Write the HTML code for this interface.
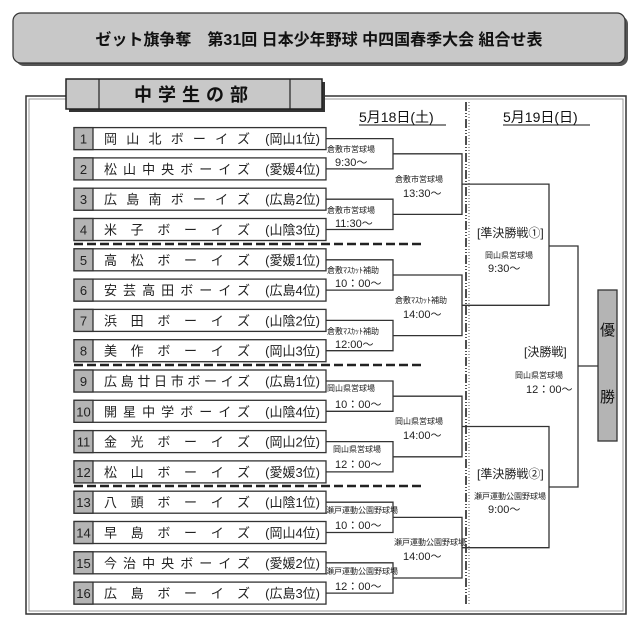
<!DOCTYPE html>
<html><head><meta charset="utf-8"><style>
body{margin:0;background:#fff}
svg{display:block;font-family:"Liberation Sans","Noto Sans CJK JP",sans-serif}
</style></head><body>
<svg width="640" height="625" viewBox="0 0 640 625" xmlns="http://www.w3.org/2000/svg">
<rect x="16" y="16" width="612" height="50" rx="8" fill="#555"/>
<rect x="13" y="13" width="612" height="50" rx="8" fill="#c8c8c8" stroke="#333" stroke-width="1.2"/>
<text x="319" y="45" font-size="16" font-weight="bold" text-anchor="middle" fill="#111">ゼット旗争奪　第31回 日本少年野球 中四国春季大会 組合せ表</text>
<rect x="26" y="96" width="600" height="518" fill="none" stroke="#333" stroke-width="1.5"/>
<rect x="29" y="99" width="594" height="512" fill="none" stroke="#999" stroke-width="1"/>
<rect x="69" y="82" width="256" height="30" fill="#333"/>
<rect x="66" y="79" width="256" height="30" fill="#c8c8c8" stroke="#222" stroke-width="1.5"/>
<line x1="99" y1="79" x2="99" y2="109" stroke="#222" stroke-width="1.2"/>
<line x1="290" y1="79" x2="290" y2="109" stroke="#222" stroke-width="1.2"/>
<text x="194" y="101" font-size="18" font-weight="bold" text-anchor="middle" letter-spacing="6" fill="#111">中学生の部</text>
<text x="359" y="122" font-size="14" fill="#111">5月18日(土)</text>
<line x1="359" y1="125" x2="446" y2="125" stroke="#111"/>
<text x="503" y="122" font-size="14" fill="#111">5月19日(日)</text>
<line x1="503" y1="125" x2="590" y2="125" stroke="#111"/>
<line x1="466" y1="102" x2="466" y2="604" stroke="#222" stroke-width="1.6" stroke-dasharray="9,2,1,2,1,2"/>
<line x1="469" y1="102" x2="469" y2="604" stroke="#555" stroke-width="1" stroke-dasharray="1,2"/>
<g stroke="#222" stroke-width="2.5" stroke-dasharray="9,4">
<line x1="74" y1="244" x2="422" y2="244"/>
<line x1="74" y1="365" x2="422" y2="365"/>
<line x1="74" y1="486" x2="422" y2="486"/>
</g>
<g stroke="#333" stroke-width="1.3" fill="none">
<path d="M326 138.6H393V168.9H326"/>
<path d="M326 199.2H393V229.5H326"/>
<path d="M326 259.8H393V290.1H326"/>
<path d="M326 320.4H393V350.7H326"/>
<path d="M326 381H393V411.3H326"/>
<path d="M326 441.6H393V471.9H326"/>
<path d="M326 502.2H393V532.5H326"/>
<path d="M326 562.8H393V593.1H326"/>
<path d="M393 153.8H462V214.4H393"/>
<path d="M393 275H462V335.6H393"/>
<path d="M393 396.2H462V456.8H393"/>
<path d="M393 517.4H462V578H393"/>
<path d="M462 184.1H549V305.3H462"/>
<path d="M462 426.5H549V547.7H462"/>
<path d="M549 246H578V487H549"/>
<path d="M578 366H598"/>
</g>
<rect x="598" y="290" width="19" height="151" fill="#b4b4b4" stroke="#333" stroke-width="1.3"/>
<text x="607.5" y="335" font-size="15" text-anchor="middle" fill="#111">優</text>
<text x="607.5" y="402" font-size="15" text-anchor="middle" fill="#111">勝</text>
<g fill="#222">
<g font-size="8">
<text x="327" y="152">倉敷市営球場</text>
<text x="327" y="213">倉敷市営球場</text>
<text x="327" y="273">倉敷ﾏｽｶｯﾄ補助</text>
<text x="327" y="334">倉敷ﾏｽｶｯﾄ補助</text>
<text x="327" y="391">岡山県営球場</text>
<text x="333" y="452">岡山県営球場</text>
<text x="326" y="513">瀬戸運動公園野球場</text>
<text x="326" y="574">瀬戸運動公園野球場</text>
<text x="395" y="182">倉敷市営球場</text>
<text x="395" y="303">倉敷ﾏｽｶｯﾄ補助</text>
<text x="395" y="424">岡山県営球場</text>
<text x="394" y="545">瀬戸運動公園野球場</text>
<text x="485" y="258">岡山県営球場</text>
<text x="474" y="499">瀬戸運動公園野球場</text>
<text x="515" y="378">岡山県営球場</text>
</g>
<g font-size="11">
<text x="335" y="166">9:30～</text>
<text x="335" y="227">11:30～</text>
<text x="335" y="287">10：00～</text>
<text x="335" y="348">12:00～</text>
<text x="335" y="408">10：00～</text>
<text x="335" y="468">12：00～</text>
<text x="335" y="529">10：00～</text>
<text x="335" y="590">12：00～</text>
<text x="403" y="197">13:30～</text>
<text x="403" y="318">14:00～</text>
<text x="403" y="439">14:00～</text>
<text x="403" y="560">14:00～</text>
<text x="488" y="272">9:30～</text>
<text x="488" y="513">9:00～</text>
<text x="526" y="393">12：00～</text>
</g>
<g font-size="12">
<text x="477" y="237">[準決勝戦①]</text>
<text x="477" y="478">[準決勝戦②]</text>
<text x="524" y="356">[決勝戦]</text>
</g>
</g>
<g font-size="13" fill="#222">
<rect x="74" y="127.6" width="252" height="22" fill="#fff" stroke="#333" stroke-width="1.3"/><rect x="74" y="127.6" width="19" height="22" fill="#b4b4b4" stroke="#333" stroke-width="1.3"/><text x="83.5" y="143.6" text-anchor="middle">1</text><text x="104" y="143.6" textLength="146" lengthAdjust="spacing">岡山北ボーイズ</text><text x="320" y="143.6" text-anchor="end">(岡山1位)</text>
<rect x="74" y="157.9" width="252" height="22" fill="#fff" stroke="#333" stroke-width="1.3"/><rect x="74" y="157.9" width="19" height="22" fill="#b4b4b4" stroke="#333" stroke-width="1.3"/><text x="83.5" y="173.9" text-anchor="middle">2</text><text x="104" y="173.9" textLength="146" lengthAdjust="spacing">松山中央ボーイズ</text><text x="320" y="173.9" text-anchor="end">(愛媛4位)</text>
<rect x="74" y="188.2" width="252" height="22" fill="#fff" stroke="#333" stroke-width="1.3"/><rect x="74" y="188.2" width="19" height="22" fill="#b4b4b4" stroke="#333" stroke-width="1.3"/><text x="83.5" y="204.2" text-anchor="middle">3</text><text x="104" y="204.2" textLength="146" lengthAdjust="spacing">広島南ボーイズ</text><text x="320" y="204.2" text-anchor="end">(広島2位)</text>
<rect x="74" y="218.5" width="252" height="22" fill="#fff" stroke="#333" stroke-width="1.3"/><rect x="74" y="218.5" width="19" height="22" fill="#b4b4b4" stroke="#333" stroke-width="1.3"/><text x="83.5" y="234.5" text-anchor="middle">4</text><text x="104" y="234.5" textLength="146" lengthAdjust="spacing">米子ボーイズ</text><text x="320" y="234.5" text-anchor="end">(山陰3位)</text>
<rect x="74" y="248.8" width="252" height="22" fill="#fff" stroke="#333" stroke-width="1.3"/><rect x="74" y="248.8" width="19" height="22" fill="#b4b4b4" stroke="#333" stroke-width="1.3"/><text x="83.5" y="264.8" text-anchor="middle">5</text><text x="104" y="264.8" textLength="146" lengthAdjust="spacing">高松ボーイズ</text><text x="320" y="264.8" text-anchor="end">(愛媛1位)</text>
<rect x="74" y="279.1" width="252" height="22" fill="#fff" stroke="#333" stroke-width="1.3"/><rect x="74" y="279.1" width="19" height="22" fill="#b4b4b4" stroke="#333" stroke-width="1.3"/><text x="83.5" y="295.1" text-anchor="middle">6</text><text x="104" y="295.1" textLength="146" lengthAdjust="spacing">安芸高田ボーイズ</text><text x="320" y="295.1" text-anchor="end">(広島4位)</text>
<rect x="74" y="309.4" width="252" height="22" fill="#fff" stroke="#333" stroke-width="1.3"/><rect x="74" y="309.4" width="19" height="22" fill="#b4b4b4" stroke="#333" stroke-width="1.3"/><text x="83.5" y="325.4" text-anchor="middle">7</text><text x="104" y="325.4" textLength="146" lengthAdjust="spacing">浜田ボーイズ</text><text x="320" y="325.4" text-anchor="end">(山陰2位)</text>
<rect x="74" y="339.7" width="252" height="22" fill="#fff" stroke="#333" stroke-width="1.3"/><rect x="74" y="339.7" width="19" height="22" fill="#b4b4b4" stroke="#333" stroke-width="1.3"/><text x="83.5" y="355.7" text-anchor="middle">8</text><text x="104" y="355.7" textLength="146" lengthAdjust="spacing">美作ボーイズ</text><text x="320" y="355.7" text-anchor="end">(岡山3位)</text>
<rect x="74" y="370" width="252" height="22" fill="#fff" stroke="#333" stroke-width="1.3"/><rect x="74" y="370" width="19" height="22" fill="#b4b4b4" stroke="#333" stroke-width="1.3"/><text x="83.5" y="386" text-anchor="middle">9</text><text x="104" y="386" textLength="146" lengthAdjust="spacing">広島廿日市ボーイズ</text><text x="320" y="386" text-anchor="end">(広島1位)</text>
<rect x="74" y="400.3" width="252" height="22" fill="#fff" stroke="#333" stroke-width="1.3"/><rect x="74" y="400.3" width="19" height="22" fill="#b4b4b4" stroke="#333" stroke-width="1.3"/><text x="83.5" y="416.3" text-anchor="middle">10</text><text x="104" y="416.3" textLength="146" lengthAdjust="spacing">開星中学ボーイズ</text><text x="320" y="416.3" text-anchor="end">(山陰4位)</text>
<rect x="74" y="430.6" width="252" height="22" fill="#fff" stroke="#333" stroke-width="1.3"/><rect x="74" y="430.6" width="19" height="22" fill="#b4b4b4" stroke="#333" stroke-width="1.3"/><text x="83.5" y="446.6" text-anchor="middle">11</text><text x="104" y="446.6" textLength="146" lengthAdjust="spacing">金光ボーイズ</text><text x="320" y="446.6" text-anchor="end">(岡山2位)</text>
<rect x="74" y="460.9" width="252" height="22" fill="#fff" stroke="#333" stroke-width="1.3"/><rect x="74" y="460.9" width="19" height="22" fill="#b4b4b4" stroke="#333" stroke-width="1.3"/><text x="83.5" y="476.9" text-anchor="middle">12</text><text x="104" y="476.9" textLength="146" lengthAdjust="spacing">松山ボーイズ</text><text x="320" y="476.9" text-anchor="end">(愛媛3位)</text>
<rect x="74" y="491.2" width="252" height="22" fill="#fff" stroke="#333" stroke-width="1.3"/><rect x="74" y="491.2" width="19" height="22" fill="#b4b4b4" stroke="#333" stroke-width="1.3"/><text x="83.5" y="507.2" text-anchor="middle">13</text><text x="104" y="507.2" textLength="146" lengthAdjust="spacing">八頭ボーイズ</text><text x="320" y="507.2" text-anchor="end">(山陰1位)</text>
<rect x="74" y="521.5" width="252" height="22" fill="#fff" stroke="#333" stroke-width="1.3"/><rect x="74" y="521.5" width="19" height="22" fill="#b4b4b4" stroke="#333" stroke-width="1.3"/><text x="83.5" y="537.5" text-anchor="middle">14</text><text x="104" y="537.5" textLength="146" lengthAdjust="spacing">早島ボーイズ</text><text x="320" y="537.5" text-anchor="end">(岡山4位)</text>
<rect x="74" y="551.8" width="252" height="22" fill="#fff" stroke="#333" stroke-width="1.3"/><rect x="74" y="551.8" width="19" height="22" fill="#b4b4b4" stroke="#333" stroke-width="1.3"/><text x="83.5" y="567.8" text-anchor="middle">15</text><text x="104" y="567.8" textLength="146" lengthAdjust="spacing">今治中央ボーイズ</text><text x="320" y="567.8" text-anchor="end">(愛媛2位)</text>
<rect x="74" y="582.1" width="252" height="22" fill="#fff" stroke="#333" stroke-width="1.3"/><rect x="74" y="582.1" width="19" height="22" fill="#b4b4b4" stroke="#333" stroke-width="1.3"/><text x="83.5" y="598.1" text-anchor="middle">16</text><text x="104" y="598.1" textLength="146" lengthAdjust="spacing">広島ボーイズ</text><text x="320" y="598.1" text-anchor="end">(広島3位)</text>
</g>
</svg>
</body></html>
